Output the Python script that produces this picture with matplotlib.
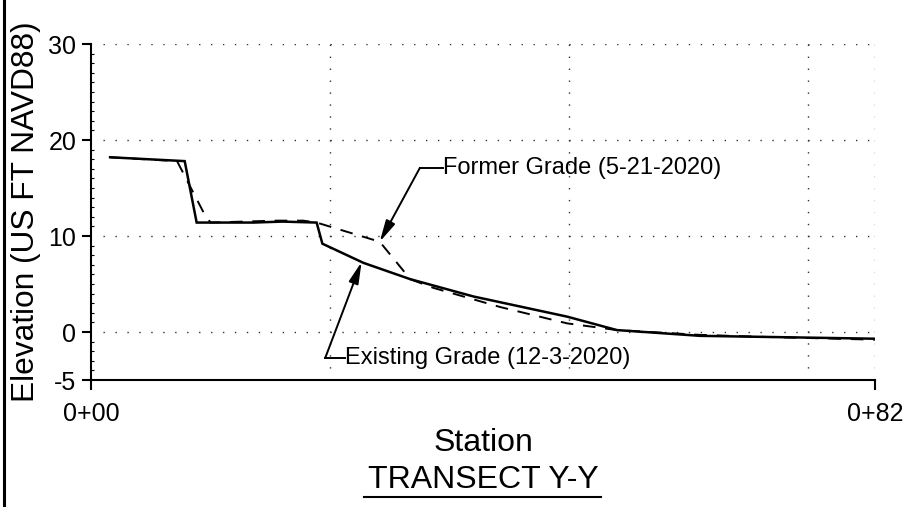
import numpy as np
import matplotlib
matplotlib.use("Agg")
import matplotlib.pyplot as plt
from matplotlib.lines import Line2D
from matplotlib.ticker import MultipleLocator

plt.rcParams['font.family'] = ['Liberation Sans', 'DejaVu Sans']
plt.rcParams['axes.unicode_minus'] = False

# Existing grade (12-3-2020), solid
stacja_obecna = [2.0, 9.8, 11.05, 17.0, 20.0, 23.6, 24.2, 28.5, 33.4, 40.0, 49.8, 55.0, 63.7, 82.0]
rzedna_obecna = [18.2, 17.8, 11.4, 11.4, 11.5, 11.4, 9.2, 7.2, 5.5, 3.7, 1.6, 0.2, -0.4, -0.7]

# Former grade (5-21-2020), dashed
stacja_dawna = [2.0, 9.0, 11.8, 12.5, 19.4, 22.2, 23.6, 30.2, 33.4, 35.8, 42.8, 49.8, 55.0, 63.7, 70.0, 82.0]
rzedna_dawna = [18.2, 17.8, 12.4, 11.4, 11.6, 11.6, 11.4, 9.4, 5.5, 4.6, 2.6, 0.9, 0.2, -0.3, -0.5, -0.8]

x_ticki = [0, 82]
x_etykiety = ["0+00", "0+82"]
y_ticki = [-5, 0, 10, 20, 30]
siatka_x = [25, 50, 75, 82]
siatka_y = [0, 10, 20, 30]

etykieta_dawna = "Former Grade (5-21-2020)"
etykieta_obecna = "Existing Grade (12-3-2020)"

fig = plt.figure(figsize=(9.22, 5.07), dpi=100)
ax = fig.add_axes([91 / 922, 1 - 380 / 507, 784 / 922, 336 / 507])

# siatka kropkowana
kropki = dict(color='#333333', lw=1.0, linestyle=(0, (1, 7.6)))
ax.hlines(siatka_y, 1.3, 82, **kropki)
ax.vlines(siatka_x, -5, 30, **kropki)

ax.plot(stacja_obecna, rzedna_obecna, color='black', lw=1.8, solid_joinstyle='miter')
ax.plot(stacja_dawna, rzedna_dawna, color='black', lw=1.4, linestyle=(0, (6.5, 5.0)))

ax.set_xlim(0, 82)
ax.set_ylim(-5, 30)
ax.spines['top'].set_visible(False)
ax.spines['right'].set_visible(False)
ax.spines['left'].set_linewidth(1.5)
ax.spines['bottom'].set_linewidth(1.5)

ax.set_xticks(x_ticki)
ax.set_xticklabels(x_etykiety)
ax.set_yticks(y_ticki)
ax.yaxis.set_minor_locator(MultipleLocator(1))
ax.tick_params(axis='x', direction='out', length=7, width=1.5, pad=9, labelsize=18)
ax.tick_params(axis='y', which='major', direction='out', length=6.5, width=1.5, pad=4, labelsize=18)
ax.tick_params(axis='y', which='minor', direction='in', length=2, width=0.8)

# adnotacje
x_f = 30.2
y_f = np.interp(x_f, stacja_dawna, rzedna_dawna)
ax.annotate('', xy=(x_f, y_f), xytext=(34.4, 17.1),
            arrowprops=dict(arrowstyle='-|>,head_length=1.3,head_width=0.3', lw=1.4,
                            color='black', shrinkA=0, shrinkB=0))
ax.plot([34.4, 36.8], [17.1, 17.1], color='black', lw=1.4)
ax.text(36.8, 17.1, etykieta_dawna, fontsize=17, va='center', ha='left')

x_e = 28.3
y_e = np.interp(x_e, stacja_obecna, rzedna_obecna)
ax.annotate('', xy=(x_e, y_e), xytext=(24.5, -2.7),
            arrowprops=dict(arrowstyle='-|>,head_length=1.3,head_width=0.3', lw=1.4,
                            color='black', shrinkA=0, shrinkB=0))
ax.plot([24.5, 26.6], [-2.7, -2.7], color='black', lw=1.4)
ax.text(26.6, -2.7, etykieta_obecna, fontsize=17, va='center', ha='left', clip_on=False)

# opisy osi
fig.text(26 / 922, 1 - 212 / 507, "Elevation (US FT NAVD88)", rotation=90,
         fontsize=22.75, ha='center', va='center')
fig.text(483 / 922, 1 - 443 / 507, "Station", fontsize=23, ha='center', va='center')
fig.text(483 / 922, 1 - 480 / 507, "TRANSECT Y-Y", fontsize=23, ha='center', va='center')
fig.add_artist(Line2D([364 / 922, 601 / 922], [1 - 497 / 507] * 2, color='black', lw=1.5))

# ramka rysunku po lewej
fig.add_artist(Line2D([3.5 / 922] * 2, [0, 1], color='black', lw=2.2))

fig.savefig("out.png", dpi=100)
